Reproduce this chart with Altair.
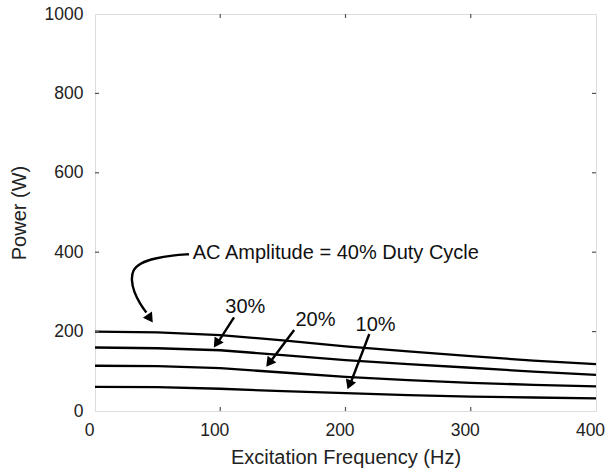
import altair as alt
import pandas as pd
import math

# ---- data ----
freq = [0, 50, 100, 150, 200, 250, 300, 350, 400]
p40 = [200, 198, 191, 178, 163, 150, 138, 127, 118]
p30 = [160, 158, 153, 141, 128, 118, 109, 99, 91]
p20 = [114, 113, 108, 97, 86, 78, 71, 66, 62]
p10 = [61, 60, 56, 50, 45, 40, 36, 34, 32]

x_ticks = [0, 100, 200, 300, 400]
y_ticks = [0, 200, 400, 600, 800, 1000]

# annotations (data units)
main_label = "AC Amplitude = 40% Duty Cycle"
main_x, main_y = 78, 398
curve_x = [75, 62, 48, 36, 30, 29, 31, 36, 41]
curve_y = [395, 392, 385, 373, 355, 330, 300, 270, 248]
pct_labels = ["30%", "20%", "10%"]
pct_x = [120, 176, 224]
pct_y = [262, 229, 217]
arr_x1 = [111, 159, 219]
arr_y1 = [236, 204, 194]
arr_x2 = [98, 140, 204]
arr_y2 = [172, 124, 70]
head_x = [44, 97, 139, 203]
head_y = [233, 170, 121, 66]

W, H = 501, 397
FONT = "Liberation Sans"
sx = W / 400.0
sy = H / 1000.0

rows = []
for name, vals in [("40%", p40), ("30%", p30), ("20%", p20), ("10%", p10)]:
    for f, v in zip(freq, vals):
        rows.append({"f": f, "p": v, "s": name})
df = pd.DataFrame(rows)

xs = alt.Scale(domain=[0, 400], nice=False)
ys = alt.Scale(domain=[0, 1000], nice=False)

lines = alt.Chart(df).mark_line(color="black", strokeWidth=2.3).encode(
    x=alt.X("f:Q", scale=xs,
            axis=alt.Axis(values=x_ticks, title="Excitation Frequency (Hz)", ticks=False,
                          domain=False, grid=False, labelPadding=10, titlePadding=9,
                          labelFlush=False, format="d", labelOffset=-6,
                          labelFontSize=17.5, titleFontSize=20, labelFont=FONT, titleFont=FONT,
                          labelColor="#222", titleColor="#222", titleFontWeight="normal")),
    y=alt.Y("p:Q", scale=ys,
            axis=alt.Axis(values=y_ticks, title="Power (W)", ticks=False, domain=False,
                          grid=False, labelPadding=12, titlePadding=15, labelFontSize=17.5,
                          labelFlush=False, format="d",
                          titleFontSize=20, labelFont=FONT, titleFont=FONT, labelColor="#222",
                          titleColor="#222", titleFontWeight="normal")),
    detail="s:N",
)

# inward ticks
xt = pd.DataFrame({"v": x_ticks[1:-1]})
yt = pd.DataFrame({"v": y_ticks[1:-1]})
tick_col = "#555"
tb = alt.Chart(xt).mark_rule(color=tick_col, strokeWidth=1.2).encode(
    x=alt.X("v:Q", scale=xs), y=alt.value(H - 4), y2=alt.value(H))
tt = alt.Chart(xt).mark_rule(color=tick_col, strokeWidth=1.2).encode(
    x=alt.X("v:Q", scale=xs), y=alt.value(0), y2=alt.value(4))
tl = alt.Chart(yt).mark_rule(color=tick_col, strokeWidth=1.2).encode(
    y=alt.Y("v:Q", scale=ys), x=alt.value(0), x2=alt.value(4))
tr = alt.Chart(yt).mark_rule(color=tick_col, strokeWidth=1.2).encode(
    y=alt.Y("v:Q", scale=ys), x=alt.value(W - 4), x2=alt.value(W))

# main label
mt = alt.Chart(pd.DataFrame({"x": [main_x], "y": [main_y], "t": [main_label]})).mark_text(
    align="left", baseline="middle", fontSize=20, font=FONT, color="#111"
).encode(x=alt.X("x:Q", scale=xs), y=alt.Y("y:Q", scale=ys), text="t:N")

# curved arrow
cdf = pd.DataFrame({"x": curve_x, "y": curve_y, "o": list(range(len(curve_x)))})
curve = alt.Chart(cdf).mark_line(color="black", strokeWidth=2.4, interpolate="basis").encode(
    x=alt.X("x:Q", scale=xs), y=alt.Y("y:Q", scale=ys), order="o:Q")

# percentage labels
pdf = pd.DataFrame({"x": pct_x, "y": pct_y, "t": pct_labels})
pt = alt.Chart(pdf).mark_text(align="center", baseline="middle", fontSize=20, font=FONT,
                              color="#111").encode(
    x=alt.X("x:Q", scale=xs), y=alt.Y("y:Q", scale=ys), text="t:N")

# straight arrows
adf = pd.DataFrame({"x": arr_x1, "y": arr_y1, "x2": arr_x2, "y2": arr_y2})
arrows = alt.Chart(adf).mark_rule(color="black", strokeWidth=2.4).encode(
    x=alt.X("x:Q", scale=xs), y=alt.Y("y:Q", scale=ys), x2="x2:Q", y2="y2:Q")

# arrow heads
starts_x = [curve_x[-2]] + arr_x1
starts_y = [curve_y[-2]] + arr_y1
angles = []
for x0, y0, x1, y1 in zip(starts_x, starts_y, head_x, head_y):
    dx = (x1 - x0) * sx
    dy = -(y1 - y0) * sy
    ang = math.degrees(math.atan2(dx, -dy)) % 360
    angles.append(ang)
hdf = pd.DataFrame({"x": head_x, "y": head_y, "a": angles})
heads = alt.Chart(hdf).mark_point(shape="triangle-up", filled=True, color="black",
                                  size=120, opacity=1).encode(
    x=alt.X("x:Q", scale=xs), y=alt.Y("y:Q", scale=ys),
    angle=alt.Angle("a:Q", scale=None))

chart = alt.layer(lines, tb, tt, tl, tr, mt, curve, pt, arrows, heads).properties(
    width=W, height=H,
    autosize=alt.AutoSizeParams(type="none"),
    padding={"left": 95, "top": 14, "right": 13, "bottom": 62},
).configure_view(stroke="#555", strokeWidth=1.5).configure(background="white")

chart.save("out.html", embed_options={"renderer": "svg", "actions": False})
